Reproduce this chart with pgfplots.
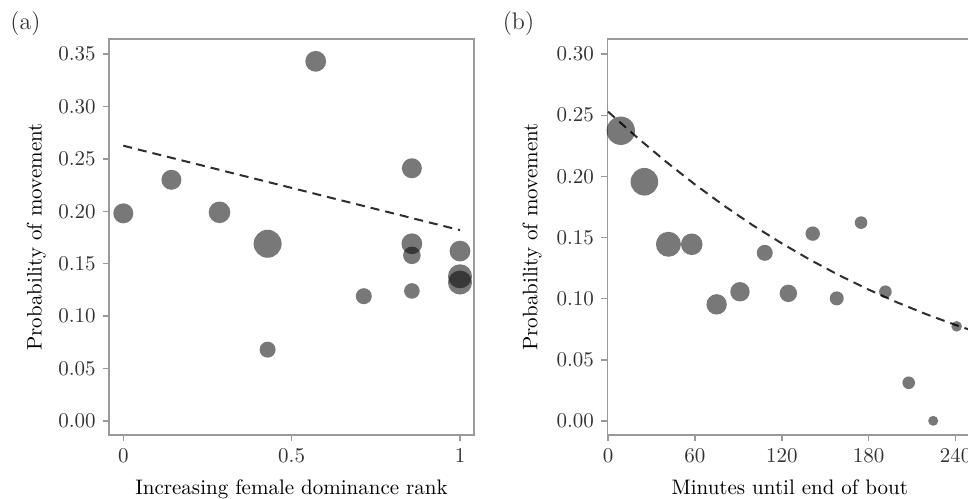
\documentclass[border=0pt]{standalone}
\usepackage{pgfplots}
\pgfplotsset{compat=1.18}
\definecolor{framegray}{HTML}{9A9A9A}
\definecolor{labelgray}{HTML}{333333}
\definecolor{linegray}{HTML}{2E2E2E}

\pgfplotstableread{
x y r
0.0000 0.198 5.0
0.1429 0.230 5.0
0.2857 0.199 5.4
0.4286 0.169 7.0
0.4286 0.068 4.0
0.5714 0.343 5.2
0.7143 0.119 4.0
0.8571 0.241 5.0
0.8571 0.169 5.2
0.8571 0.158 4.4
0.8571 0.124 3.9
1.0000 0.162 5.2
1.0000 0.138 6.0
1.0000 0.132 6.0
}\tablea

\pgfplotstableread{
x y r
8.8 0.2373 7.1
25.1 0.1956 6.9
41.7 0.1445 6.25
57.8 0.1445 5.4
75.0 0.0954 5.1
91.1 0.1057 4.85
108.2 0.1375 4.0
124.5 0.1044 4.35
141.3 0.1532 3.6
157.9 0.1003 3.5
174.7 0.1622 3.15
191.5 0.1057 3.15
207.6 0.0313 3.15
224.5 0.0002 2.5
240.7 0.0774 2.65
}\tableb

\begin{document}
\fontsize{10.5}{12}\selectfont
\begin{tikzpicture}
\pgfplotsset{
  myaxis/.style={
    scale only axis, width=182.5pt, height=198pt, anchor=south west,
    axis line style={framegray, line width=0.7pt},
    tick style={framegray, line width=0.7pt},
    tick align=outside, major tick length=3pt,
    xtick pos=left, ytick pos=left,
    ticklabel style={font=\fontsize{10.5}{12}\selectfont, text=labelgray},
    label style={font=\fontsize{9.9}{12}\selectfont, text=labelgray},
    /pgf/number format/assume math mode=true,
    scaled y ticks=false,
    y tick label style={/pgf/number format/.cd, fixed, fixed zerofill, precision=2},
    every axis x label/.style={at={(axis description cs:0.5,-0.149)}, anchor=base},
  },
  bubbles/.style={
    scatter, only marks, mark=*,
    scatter/use mapped color={draw=black, draw opacity=0, fill=black, fill opacity=0.53},
    mark options={draw opacity=0, line width=0pt},
    visualization depends on={\thisrow{r} \as \rad},
    scatter/@pre marker code/.append style={/tikz/mark size=\rad pt},
  },
  fitline/.style={no marks, linegray, line width=1pt, dash pattern=on 4.5pt off 3pt},
}

\begin{axis}[myaxis, at={(54.5pt,31.5pt)},
  xmin=-0.0425, xmax=1.0416, ymin=-0.0134, ymax=0.3643,
  xtick={0,0.5,1}, xticklabels={0,0.5,1},
  ytick={0,0.05,0.10,0.15,0.20,0.25,0.30,0.35},
  xlabel={Increasing female dominance rank},
  ylabel={Probability of movement},
  every axis y label/.style={at={(axis description cs:-0.1844,0.5)}, rotate=90, anchor=base},
]
\addplot[bubbles] table[x=x, y=y, meta=y] {\tablea};
\addplot[fitline] coordinates {(0,0.2625) (1,0.182)};
\end{axis}

\begin{axis}[myaxis, at={(303.65pt,31.5pt)},
  xmin=-0.5, xmax=251.5, ymin=-0.0114, ymax=0.3123,
  xtick={0,60,120,180,240},
  ytick={0,0.05,0.10,0.15,0.20,0.25,0.30},
  xlabel={Minutes until end of bout},
  ylabel={Probability of movement},
  every axis y label/.style={at={(axis description cs:-0.1918,0.5)}, rotate=90, anchor=base},
]
\addplot[bubbles] table[x=x, y=y, meta=y] {\tableb};
\addplot[fitline] coordinates {(0,0.2529) (20,0.2319) (40,0.2120) (60,0.1934) (80,0.1761) (100,0.1600) (120,0.1452) (140,0.1315) (160,0.1189) (180,0.1074) (200,0.0968) (220,0.0872) (240,0.0785) (260,0.0706)};
\end{axis}

\node[anchor=base west, inner sep=0pt, text=labelgray, font=\fontsize{12}{14}\selectfont] at (5pt,234pt) {(a)};
\node[anchor=base west, inner sep=0pt, text=labelgray, font=\fontsize{12}{14}\selectfont] at (251.2pt,234pt) {(b)};

\pgfresetboundingbox
\useasboundingbox (0,0) rectangle (484pt,249pt);
\end{tikzpicture}
\end{document}
